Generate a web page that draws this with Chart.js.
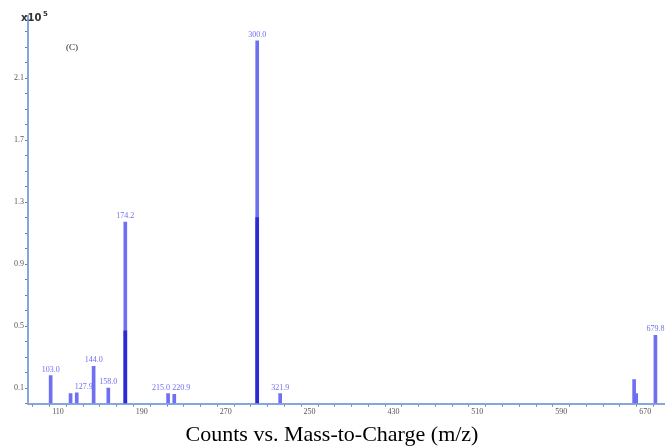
<!DOCTYPE html>
<html>
<head>
<meta charset="utf-8">
<script src="https://cdn.jsdelivr.net/npm/chart.js@4/dist/chart.umd.min.js"></script>
<style>
  html, body { margin: 0; padding: 0; background: #fff; }
  #wrap { width: 667px; height: 448px; }
</style>
</head>
<body>
<div id="wrap"><canvas id="myChart"></canvas></div>
<script>
// peaks (counts in units of 10^5)
var peakMz     = [103.0, 122.0, 127.9, 144.0, 158.0, 174.2, 215.0, 220.9, 300.0, 321.9, 659.5, 661.5, 679.8];
var peakCounts = [0.18, 0.065, 0.07, 0.24, 0.10, 1.17, 0.065, 0.06, 2.34, 0.065, 0.155, 0.065, 0.44];
var peakLabels = ['103.0', '', '127.9', '144.0', '158.0', '174.2', '215.0', '220.9', '300.0', '321.9', '', '', '679.8'];
// darker inner part of some peaks
var darkMz     = [174.2, 300.0];
var darkCounts = [0.47, 1.2];

var xTickValues = [110, 190, 270, 350, 430, 510, 590, 670];
var xTickLabels = ['110', '190', '270', '250', '430', '510', '590', '670'];
var yTickLabels = ['0.1', '0.5', '0.9', '1.3', '1.7', '2.1'];

var lightBlue = '#6f6ff2';
var darkBlue = '#2b2bd6';
var axisBlue = '#86a6e2';
// labels that are pushed aside so they do not overlap
var labelAlign = { '215.0': 'right', '220.9': 'left', '127.9': 'left' };

var peakData = peakMz.map(function (m, i) { return { x: m, y: peakCounts[i] }; });
var darkData = darkMz.map(function (m, i) { return { x: m, y: darkCounts[i] }; });

var labelPlugin = {
  id: 'peakLabels',
  afterDatasetsDraw: function (chart) {
    var ctx = chart.ctx;
    var xs = chart.scales.x, ys = chart.scales.y;
    ctx.save();
    ctx.font = '8px "Liberation Serif"';
    ctx.fillStyle = lightBlue;
    ctx.textBaseline = 'bottom';
    peakMz.forEach(function (m, i) {
      var txt = peakLabels[i];
      if (!txt) return;
      var px = xs.getPixelForValue(m);
      var al = labelAlign[txt] || 'center';
      ctx.textAlign = al;
      if (al === 'right') px += 2;
      if (al === 'left') px -= 2;
      ctx.fillText(txt, px, ys.getPixelForValue(peakCounts[i]) - 2);
    });
    // exponent marker and panel letter
    ctx.fillStyle = '#333';
    ctx.textAlign = 'left';
    ctx.textBaseline = 'alphabetic';
    ctx.font = 'bold 10px "DejaVu Sans"';
    ctx.fillText('x10', 21, 21);
    ctx.font = 'bold 7px "DejaVu Sans"';
    ctx.fillText('5', 43, 16);
    ctx.font = '9px "Liberation Serif"';
    ctx.fillStyle = '#222';
    ctx.fillText('(C)', 66, 50);
    ctx.restore();
  }
};

var chart = new Chart(document.getElementById('myChart').getContext('2d'), {
  type: 'bar',
  data: {
    datasets: [{
      data: darkData,
      backgroundColor: darkBlue,
      barThickness: 3,
      grouped: false
    }, {
      data: peakData,
      backgroundColor: lightBlue,
      barThickness: 3,
      grouped: false
    }]
  },
  options: {
    responsive: true,
    maintainAspectRatio: false,
    animation: false,
    layout: { padding: { top: 16, right: 3, left: 0, bottom: 0 } },
    plugins: {
      legend: { display: false },
      tooltip: { enabled: false },
      title: {
        display: true,
        position: 'bottom',
        text: 'Counts vs. Mass-to-Charge (m/z)',
        color: '#000',
        font: { family: 'Liberation Serif', size: 22, weight: 'normal' },
        padding: { top: 3, bottom: 0 }
      }
    },
    scales: {
      x: {
        type: 'linear',
        min: 81.4,
        max: 688,
        offset: false,
        afterBuildTicks: function (scale) {
          var t = [];
          for (var v = 94; v <= 686; v += 16) t.push({ value: v });
          scale.ticks = t;
        },
        afterFit: function (scale) { scale.height = 15; },
        ticks: {
          autoSkip: false,
          maxRotation: 0,
          padding: 1,
          color: '#555',
          font: { family: 'Liberation Serif', size: 8 },
          callback: function (value) {
            var i = xTickValues.indexOf(value);
            return i >= 0 ? xTickLabels[i] : '';
          }
        },
        grid: { drawOnChartArea: false, drawTicks: true, tickLength: 3, color: '#777' },
        border: { color: axisBlue, width: 2 }
      },
      y: {
        min: 0,
        max: 2.5,
        afterFit: function (scale) { scale.width = 28; },
        ticks: {
          stepSize: 0.1,
          autoSkip: false,
          padding: 1,
          color: '#555',
          font: { family: 'Liberation Serif', size: 8 },
          callback: function (value) {
            var s = (Math.round(value * 10) / 10).toFixed(1);
            return yTickLabels.indexOf(s) >= 0 ? s : '';
          }
        },
        grid: { drawOnChartArea: false, drawTicks: true, tickLength: 3, color: '#777' },
        border: { color: axisBlue, width: 2 }
      }
    }
  },
  plugins: [labelPlugin]
});
</script>
</body>
</html>
